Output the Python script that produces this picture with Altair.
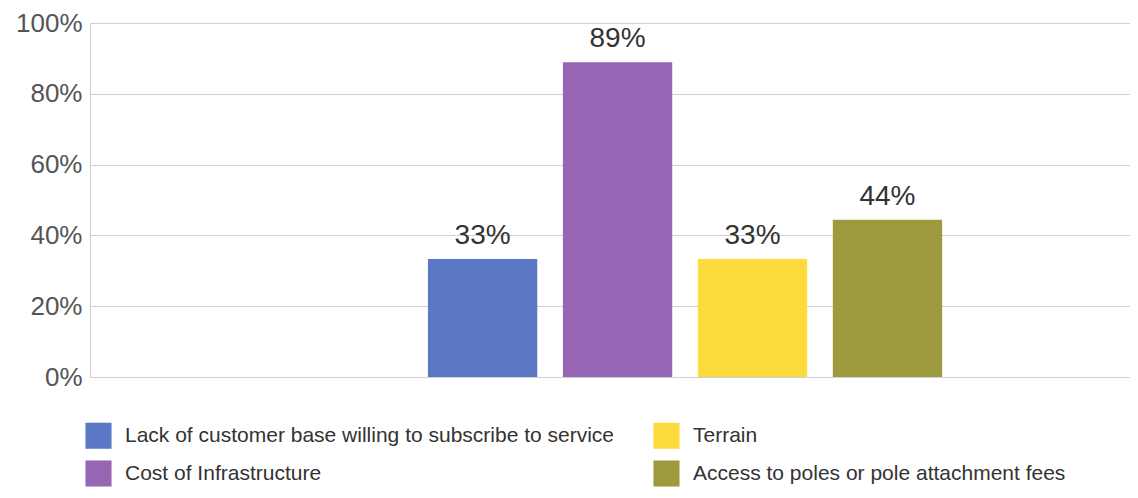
import altair as alt
import pandas as pd

categories = [
    "Lack of customer base willing to subscribe to service",
    "Cost of Infrastructure",
    "Terrain",
    "Access to poles or pole attachment fees",
]
values = [33.3, 88.9, 33.3, 44.4]
value_labels = ["33%", "89%", "33%", "44%"]
bar_colors = ["#5a78c4", "#9665b3", "#fedb3c", "#9d9a3e"]
y_ticks = [0, 20, 40, 60, 80, 100]

# empty slots on the band scale (the reference leaves space left of the bars)
x_domain = [" ", "  "] + categories + ["   "]

df = pd.DataFrame({"category": categories, "value": values, "label": value_labels})

x_enc = alt.X(
    "category:N",
    axis=None,
    scale=alt.Scale(domain=x_domain, paddingInner=0.19, paddingOuter=0.448, align=0.5625),
)
y_enc = alt.Y(
    "value:Q",
    scale=alt.Scale(domain=[0, 100], nice=False),
    axis=alt.Axis(
        values=y_ticks,
        labelExpr="datum.value + '%'",
        grid=True,
        ticks=False,
        domain=True,
        domainColor="#d0d0d0",
        gridColor="#cfcfd6",
        labelFontSize=26,
        labelColor="#555555",
        labelPadding=8,
        title=None,
    ),
)

bars = alt.Chart(df).mark_bar().encode(
    x=x_enc,
    y=y_enc,
    color=alt.Color(
        "category:N",
        scale=alt.Scale(domain=categories, range=bar_colors),
        legend=alt.Legend(
            title=None,
            orient="none",
            legendX=-5,
            legendY=399,
            columns=2,
            columnPadding=38,
            rowPadding=11,
            symbolType="square",
            symbolSize=680,
            symbolStrokeWidth=0,
            symbolOpacity=1,
            labelFontSize=21,
            labelColor="#333333",
            labelLimit=700,
            labelOffset=13,
        ),
    ),
)

text = alt.Chart(df).mark_text(
    baseline="bottom", dy=-9, fontSize=28, color="#333333"
).encode(x=x_enc, y=y_enc, text="label:N")

chart = (
    alt.layer(bars, text)
    .properties(
        width=1040,
        height=354,
        autosize=alt.AutoSizeParams(type="none"),
        padding={"left": 82, "top": 15, "right": 0, "bottom": 111},
    )
    .configure(font="Liberation Sans")
    .configure_view(stroke=None)
)

chart.save("out.html", embed_options={"renderer": "svg", "actions": False})
